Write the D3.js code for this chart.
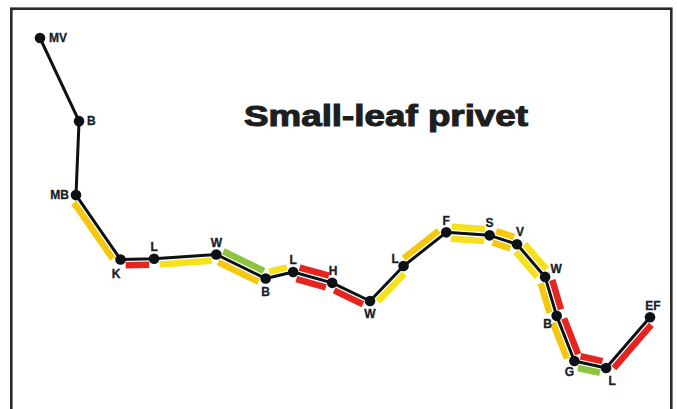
<!DOCTYPE html>
<html>
<head>
<meta charset="utf-8">
<script src="https://cdn.jsdelivr.net/npm/d3@7"></script>
<style>
  html, body { margin: 0; padding: 0; background: #ffffff; }
  svg { display: block; }
</style>
</head>
<body>
<svg id="chart" width="677" height="409"></svg>
<script>
// ---------- data ----------
const title = "Small-leaf privet";

// stops along the route (in order)
const stopLabels = ["MV","B","MB","K","L","W","B","L","H","W","L","F","S","V","W","B","G","L","EF"];
const stopX = [0, 6.4, 5.9, 13.2, 18.7, 28.9, 37.0, 41.5, 47.9, 54.1, 59.6, 66.6, 73.7, 78.2, 82.8, 84.7, 87.6, 92.8, 100];
const stopY = [100, 74.8, 52.4, 32.9, 33.1, 34.4, 27.1, 29.1, 25.8, 20.3, 30.9, 41.1, 40.2, 37.5, 27.6, 15.8, 2.1, 0, 15.4];

// rating bars beside route legs (leg i joins stop i and stop i+1)
const barLeg    = [2, 3, 4, 5, 5, 6, 7, 7, 8, 9, 10, 11, 11, 12, 12, 13, 13, 14, 14, 15, 15, 16, 16, 17];
const barSide   = ["right","right","right","left","right","left","left","right","right","right","left","left","right","left","right","left","right","left","right","left","right","left","right","right"];
const barRating = ["O","R","Y","G","O","Y","R","R","R","Y","O","Y","Y","O","O","Y","Y","R","O","R","O","R","G","R"];

// ---------- layout ----------
const svg = d3.select("#chart");

const x = d3.scaleLinear().domain([0, 100]).range([40, 650]);
const y = d3.scaleLinear().domain([0, 100]).range([368, 38]);
const color = d3.scaleOrdinal()
  .domain(["Y", "O", "R", "G"])
  .range(["#f6e11c", "#f5c70f", "#e4241f", "#8cc43e"]);

// frame
svg.append("rect")
  .attr("x", 11.3).attr("y", 8.7)
  .attr("width", 660).attr("height", 420)
  .attr("fill", "none")
  .attr("stroke", "#2b2b2b")
  .attr("stroke-width", 2.6);

// title
svg.append("text")
  .attr("x", 244).attr("y", 126)
  .attr("textLength", 284)
  .attr("lengthAdjust", "spacingAndGlyphs")
  .attr("font-family", "'Liberation Sans', Arial, sans-serif")
  .attr("font-weight", "bold")
  .attr("font-size", 30)
  .attr("fill", "#1e1e1e")
  .attr("stroke", "#1e1e1e")
  .attr("stroke-width", 1.1)
  .text(title);

const pts = stopLabels.map((l, i) => ({ label: l, px: x(stopX[i]), py: y(stopY[i]) }));

// bars
const OFF = 6, SHRINK = 5;
const bars = barLeg.map((leg, i) => {
  const a = pts[leg], b = pts[leg + 1];
  const dx = b.px - a.px, dy = b.py - a.py;
  const len = Math.hypot(dx, dy);
  const ux = dx / len, uy = dy / len;
  const s = barSide[i] === "left" ? 1 : -1;
  const nx = uy * s * OFF, ny = -ux * s * OFF;
  return {
    x1: a.px + ux * SHRINK + nx, y1: a.py + uy * SHRINK + ny,
    x2: b.px - ux * SHRINK + nx, y2: b.py - uy * SHRINK + ny,
    rating: barRating[i]
  };
});

svg.append("g").selectAll("line")
  .data(bars).join("line")
  .attr("x1", d => d.x1).attr("y1", d => d.y1)
  .attr("x2", d => d.x2).attr("y2", d => d.y2)
  .attr("stroke", d => color(d.rating))
  .attr("stroke-width", 6.5)
  .attr("stroke-linecap", "butt");

// route line
svg.append("path")
  .datum(pts)
  .attr("d", d3.line().x(d => d.px).y(d => d.py))
  .attr("fill", "none")
  .attr("stroke", "#0c1116")
  .attr("stroke-width", 3)
  .attr("stroke-linejoin", "round");

// nodes
svg.append("g").selectAll("circle")
  .data(pts).join("circle")
  .attr("cx", d => d.px).attr("cy", d => d.py)
  .attr("r", 5.3)
  .attr("fill", "#0c1116");

// label placement (offsets from node, anchor)
const labelPlace = [
  [9, 4, "start"], [8, 4, "start"], [-7, 4, "end"], [-4.5, 18.5, "middle"],
  [0, -7.7, "middle"], [0, -7.5, "middle"], [0, 17.3, "middle"], [0, -8, "middle"],
  [1, -7.7, "middle"], [0, 17, "middle"], [-8.5, -3, "middle"], [0, -7.3, "middle"],
  [0, -8.5, "middle"], [3, -8.3, "middle"], [11, -4, "middle"], [-9, 12, "middle"],
  [-5, 15, "middle"], [6, 17, "middle"], [3, -7, "middle"]
];

svg.append("g").selectAll("text")
  .data(pts).join("text")
  .attr("x", (d, i) => d.px + labelPlace[i][0])
  .attr("y", (d, i) => d.py + labelPlace[i][1])
  .attr("text-anchor", (d, i) => labelPlace[i][2])
  .attr("font-family", "'Liberation Sans', Arial, sans-serif")
  .attr("font-weight", "bold")
  .attr("font-size", 12)
  .attr("fill", "#15202a")
  .attr("stroke", "#15202a")
  .attr("stroke-width", 0.3)
  .text(d => d.label);
</script>
</body>
</html>
